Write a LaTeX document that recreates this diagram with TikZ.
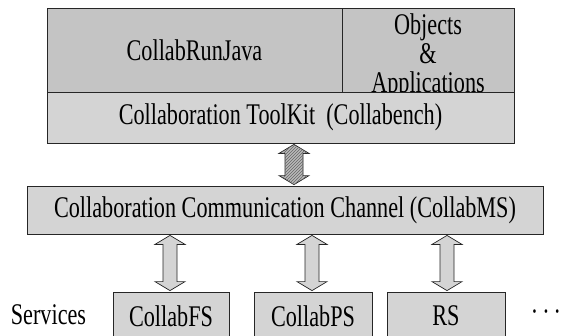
\documentclass[tikz,border=0pt]{standalone}
\usepackage{fontspec}
\setmainfont{Liberation Serif}[FakeStretch=0.74]
\usetikzlibrary{calc,patterns}

\definecolor{topgray}{gray}{0.77}
\definecolor{boxgray}{gray}{0.83}
\newcommand{\labelsize}{\fontsize{30}{29}\selectfont}

% 双向块箭头: [样式] x, 半杆宽, 上方节点, 下方节点
\newcommand{\dblarrow}[5][]{%
    \coordinate (ax) at (#2,0);
    \coordinate (at) at ($(ax |- #4.south)+(0,1)$);
    \coordinate (ab) at ($(ax |- #5.north)+(0,-1)$);
    \draw[#1] (at) -- ++(15,9) -- ++(-15+#3,0) -- ($(ab)+(#3,-9)$) -- ++(15-#3,0)
        -- (ab) -- ++(-15,-9) -- ++(15-#3,0) -- ($(at)+(-#3,9)$) -- ++(-15+#3,0) -- cycle;
}

\tikzset{
    layer/.style={draw=black!85, line width=0.8pt, fill=boxgray, inner sep=0pt, font=\labelsize},
    plainarrow/.style={draw=black!85, line width=0.7pt, fill=boxgray},
    hatcharrow/.style={draw=black!85, line width=0.7pt, fill=gray!55,
        postaction={pattern=north east lines, pattern color=black!60}}
}

\begin{document}
\begin{tikzpicture}[x=1pt, y=-1pt]
    \useasboundingbox (0,0) rectangle (562,335);
    \clip (0,0) rectangle (562,335);

    % 上层: 应用与工具包
    \node[layer, fill=topgray, minimum width=295, minimum height=84] (runjava) at (194.5,50) {CollabRunJava};
    \node[layer, fill=topgray, minimum width=172, minimum height=84] (objects) at (428,50) {};
    \node[font=\labelsize, align=center, inner sep=0pt] (objtext) at (428,56)
        {Objects\\\&\\Applications};
    \node[layer, minimum width=467, minimum height=51] (toolkit) at (280.5,117.5)
        {Collaboration ToolKit\ \ (Collabench)};

    % 通信通道
    \node[layer, minimum width=516, minimum height=48] (channel) at (285,210)
        {Collaboration Communication Channel (CollabMS)};

    % 服务
    \node[font=\labelsize] (services) at (48.5,315) {Services};
    \node[layer, minimum width=116, minimum height=48] (collabfs) at (171,316) {CollabFS};
    \node[layer, minimum width=118, minimum height=48] (collabps) at (313,316) {CollabPS};
    \node[layer, minimum width=118, minimum height=48] (rs) at (446,316) {RS};
    \node[font=\labelsize, anchor=base, inner sep=0pt] (more) at (546,321)
        {\textperiodcentered\hspace{4pt}\textperiodcentered\hspace{4pt}\textperiodcentered};

    % 箭头
    \dblarrow[hatcharrow]{294}{9}{toolkit}{channel}
    \dblarrow[plainarrow]{170}{7}{channel}{collabfs}
    \dblarrow[plainarrow]{312}{7}{channel}{collabps}
    \dblarrow[plainarrow]{447}{7}{channel}{rs}
\end{tikzpicture}
\end{document}
